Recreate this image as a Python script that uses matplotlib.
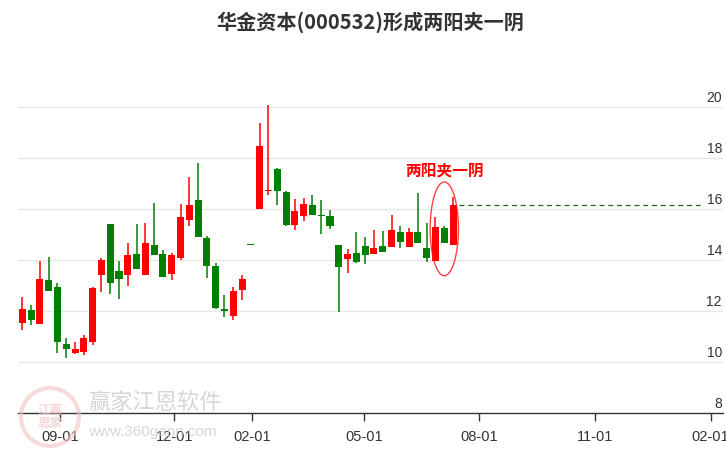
import numpy as np
import pandas as pd
import matplotlib
matplotlib.use('Agg')
import matplotlib.pyplot as plt
import matplotlib.dates as mdates
from matplotlib.patches import Ellipse
from datetime import datetime

plt.rcParams['font.family'] = ['Noto Sans CJK SC', 'DejaVu Sans']

############################################################
# Weekly K-line data, 000532 (week ending Friday)

dates = pd.date_range('2024-08-02', periods=50, freq='W-FRI')

opens = [11.55, 12.04, 11.51, 13.22, 12.94, 10.71, 10.37, 10.41, 10.80, 13.42,
         15.41, 13.57, 13.42, 14.24, 13.42, 14.59, 14.24, 13.46, 14.09, 15.58,
         16.35, 14.86, 13.77, 12.05, 11.82, 12.84, 14.58, 16.01, 16.70, 17.56,
         16.66, 15.38, 15.73, 16.15, 15.75, 15.72, 14.59, 14.05, 14.26, 14.54,
         14.25, 14.54, 14.51, 15.10, 14.52, 15.10, 14.47, 13.97, 15.25, 14.60]
highs = [12.55, 12.24, 13.96, 14.12, 13.10, 10.95, 10.79, 11.07, 12.94, 14.08,
         15.41, 13.96, 14.67, 15.41, 15.45, 16.23, 14.39, 14.28, 16.19, 17.25,
         17.80, 14.93, 13.88, 12.63, 12.94, 13.41, 14.58, 19.36, 20.07, 17.60,
         16.70, 16.39, 16.43, 16.54, 16.35, 15.96, 14.59, 14.43, 15.10, 14.89,
         15.17, 15.13, 15.76, 15.33, 15.25, 16.62, 15.45, 15.68, 15.33, 16.47]
lows = [11.26, 11.46, 11.51, 12.80, 10.37, 10.18, 10.33, 10.29, 10.68, 12.76,
        12.68, 12.49, 12.99, 13.66, 13.42, 14.21, 13.35, 13.23, 14.01, 15.34,
        14.91, 13.31, 12.09, 11.78, 11.66, 12.45, 14.58, 16.01, 16.56, 16.16,
        15.34, 15.19, 15.54, 15.77, 15.03, 15.22, 11.98, 13.50, 13.87, 13.84,
        14.25, 14.33, 14.51, 14.48, 14.52, 14.68, 13.93, 13.97, 14.68, 14.60]
closes = [12.08, 11.65, 13.26, 12.80, 10.80, 10.53, 10.52, 10.95, 12.90, 14.00,
          13.11, 13.27, 14.20, 13.66, 14.67, 14.21, 13.35, 14.20, 15.68, 16.15,
          14.91, 13.78, 12.13, 12.02, 12.79, 13.26, 14.58, 18.46, 16.72, 16.71,
          15.38, 15.92, 16.19, 15.77, 15.72, 15.34, 13.74, 14.22, 13.93, 14.21,
          14.46, 14.33, 15.17, 14.72, 15.10, 14.68, 14.09, 15.29, 14.68, 16.15]

y_ticks = [8, 10, 12, 14, 16, 18, 20]
x_tick_dates = ['2024-09-01', '2024-12-01', '2025-02-01', '2025-05-01',
                '2025-08-01', '2025-11-01', '2026-02-01']

title = '华金资本(000532)形成两阳夹一阴'
pattern_label = '两阳夹一阴'

############################################################
# Plotting

up_color = '#ff0000'
down_color = '#008000'

fig = plt.figure(figsize=(7.26, 4.5), dpi=100)
ax = fig.add_axes([18 / 726, (450 - 413.3) / 450, (723 - 18) / 726, (413.3 - 60) / 450])

x = mdates.date2num(dates)
o = np.array(opens)
h = np.array(highs)
l = np.array(lows)
c = np.array(closes)
colors = [up_color if cc > oo else down_color for oo, cc in zip(o, c)]

body_bottom = np.minimum(o, c)
body_height = np.maximum(np.abs(c - o), 0.05)

ax.vlines(x, l, h, colors=colors, linewidth=1.1, zorder=3)
ax.bar(x, body_height, bottom=body_bottom, width=5.6, color=colors, linewidth=0, zorder=4)

# grid lines
for yv in y_ticks[1:]:
    ax.axhline(yv, color='#e6e6e6', linewidth=1, zorder=1)

# y labels on the right, inside
for yv in y_ticks:
    ax.text(0.9985, yv + 0.08, str(yv), transform=ax.get_yaxis_transform(),
            ha='right', va='bottom', fontsize=10, color='#333333',
            family=['Liberation Sans Narrow', 'Liberation Sans'])

# pattern marker
last_x = x[-1]
ax.hlines(c[-1], last_x + 5, mdates.date2num(datetime(2026, 1, 26)),
          colors='#1a6b1a', linestyles=(0, (4, 3)), linewidth=0.9, zorder=2)
ell = Ellipse((x[-2], 15.22), width=22.5, height=3.67, fill=False,
              edgecolor='#ff2020', linewidth=1.0, alpha=0.85, zorder=5)
ax.add_patch(ell)
ax.text(x[-2], 17.52, pattern_label, ha='center', va='center', fontsize=11.3,
        color='#ff0000', fontweight='bold', zorder=6)

x0 = mdates.date2num(datetime(2024, 9, 1))
ax.set_xlim(x0 - 33.4, x0 + 527.9)
ax.set_ylim(8, 21.83)

ax.set_xticks(mdates.date2num(pd.to_datetime(x_tick_dates)))
ax.set_xticklabels([d[5:] for d in x_tick_dates], fontsize=10.5, color='#333333',
                   family=['Liberation Sans Narrow', 'Liberation Sans'])
ax.set_yticks([])
ax.tick_params(axis='x', direction='out', length=6, width=1, color='#333333', pad=6)

for s in ['top', 'left', 'right']:
    ax.spines[s].set_visible(False)
ax.spines['bottom'].set_color('#333333')
ax.spines['bottom'].set_linewidth(1)

fig.text(370 / 726, 1 - 22 / 450, title, ha='center', va='center', fontsize=14.5,
         fontweight='bold', color='#333333')

# faint watermark
logo = Ellipse((50 / 726, 1 - 417 / 450), width=58 / 726, height=58 / 450,
               transform=fig.transFigure, fill=False, edgecolor='#f2c4c4',
               linewidth=3, alpha=0.6, zorder=0)
fig.patches.append(logo)
fig.text(50 / 726, 1 - 417 / 450, '江赢\n恩家', ha='center', va='center', fontsize=9,
         color='#f2c4c4', alpha=0.7, linespacing=1.0, fontweight='bold')
fig.text(88 / 726, 1 - 403 / 450, '赢家江恩软件', ha='left', va='center', fontsize=16,
         color='#cccccc', alpha=0.8)
fig.text(88 / 726, 1 - 432 / 450, 'www.360gann.com', ha='left', va='center', fontsize=11,
         color='#cccccc', alpha=0.8, family=['Liberation Sans', 'DejaVu Sans'])

fig.savefig('out.png', dpi=100)
